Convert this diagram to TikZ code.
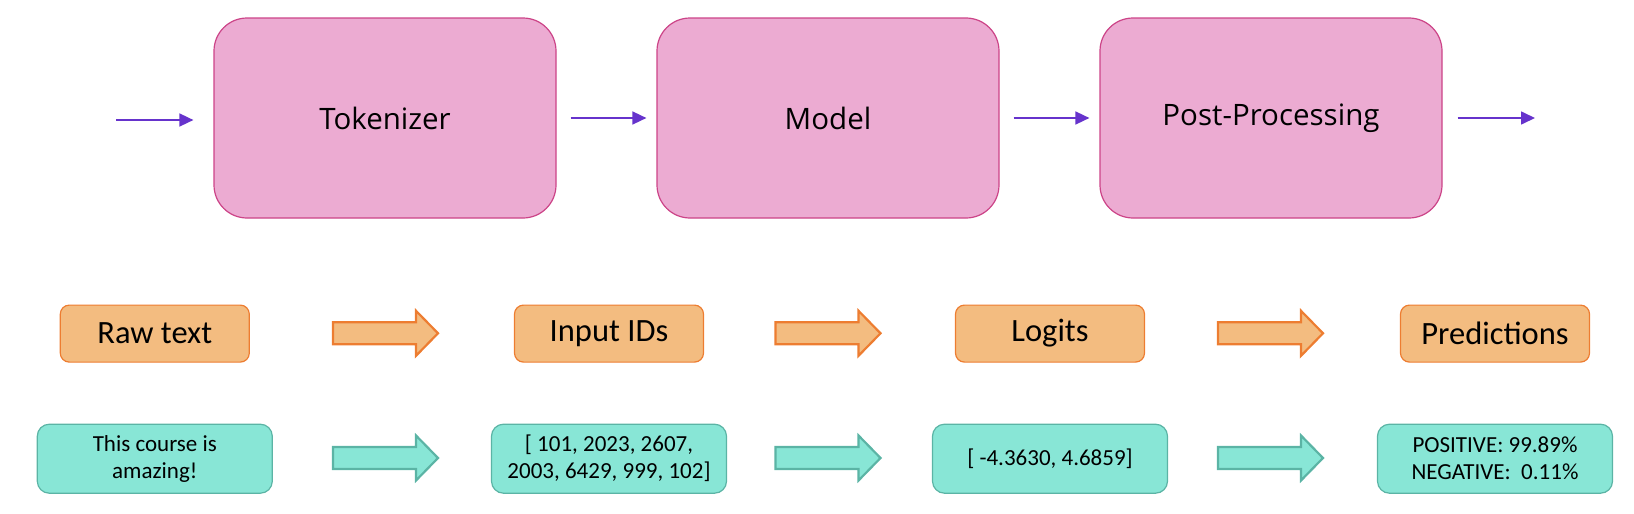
\documentclass[tikz,border=0pt]{standalone}
\usepackage{fontspec}
\setmainfont{Carlito}
\newfontfamily\topfont{Open Sans}
\usetikzlibrary{arrows.meta,calc}
\definecolor{pinkfill}{HTML}{ECABD2}
\definecolor{pinkdraw}{HTML}{CC4488}
\definecolor{purplearr}{HTML}{6633CC}
\definecolor{orfill}{HTML}{F3BC80}
\definecolor{ordraw}{HTML}{ED7D31}
\definecolor{tealfill}{HTML}{88E6D6}
\definecolor{tealdraw}{HTML}{5BB4A5}
\tikzset{
  stagebox/.style={rectangle, rounded corners=33pt, fill=pinkfill, draw=pinkdraw, line width=1.2pt,
    minimum width=342pt, minimum height=200pt, inner sep=0pt, font=\topfont\fontsize{29.5}{34}\selectfont},
  labelbox/.style={rectangle, rounded corners=9pt, fill=orfill, draw=ordraw, line width=1.2pt,
    minimum width=189pt, minimum height=57pt, inner sep=0pt, font=\fontsize{32.5}{36}\selectfont},
  valuebox/.style={rectangle, rounded corners=12pt, fill=tealfill, draw=tealdraw, line width=1.2pt,
    minimum width=235pt, minimum height=69pt, inner sep=0pt, align=center, font=\fontsize{23}{27}\selectfont},
  flow/.style={draw=purplearr, line width=1.6pt, -{Triangle[length=14pt,width=13pt]}},
  orblock/.style={fill=orfill, draw=ordraw, line width=2.2pt, line join=miter},
  tealblock/.style={fill=tealfill, draw=tealdraw, line width=2.2pt, line join=miter},
}
\newcommand\blockarrow[3]{% style, center x, center y
  \path[#1] ($(#2,#3)+(-52,-11)$) -- ++(83,0) -- ++(0,-11.5) -- ++(22,22.5) -- ++(-22,22.5) -- ++(0,-11.5) -- ++(-83,0) -- cycle;}
\begin{document}
\begin{tikzpicture}[x=1pt,y=-1pt]
\useasboundingbox (0,0) rectangle (1634,514);
% top row
\node[stagebox] (tok) at (385,118) {Tokenizer};
\node[stagebox] (model) at (828,118) {Model};
\node[stagebox] (post) at (1271,118) {Post-Processing};
\coordinate (in) at (116,120);
\coordinate (out) at (1535,118);
\draw[flow, shorten >=20pt] (in) -- (tok.west |- in);
\draw[flow, shorten <=14pt, shorten >=10pt] (tok) -- (model);
\draw[flow, shorten <=14pt, shorten >=10pt] (model) -- (post);
\draw[flow, shorten <=15pt] (post) -- (out);
% labels row
\node[labelbox] (raw) at (154.8,333.6) {Raw text};
\node[labelbox] (ids) at (609,333.6) {Input IDs};
\node[labelbox] (logits) at (1050,333.6) {Logits};
\node[labelbox] (pred) at (1495,333.6) {Predictions};
% values row
\node[valuebox] (txt) at (154.8,458.7) {This course is\\amazing!};
\node[valuebox] (idv) at (609,458.7) {[ 101, 2023, 2607,\\2003, 6429, 999, 102]};
\node[valuebox] (lgv) at (1050,458.7) {[ -4.3630, 4.6859]};
\node[valuebox] (prv) at (1495,458.7) {POSITIVE: 99.89\%\\NEGATIVE:\ \ 0.11\%};
% block arrows
\blockarrow{orblock}{385}{333.3}
\blockarrow{orblock}{827.5}{333.3}
\blockarrow{orblock}{1270}{333.3}
\blockarrow{tealblock}{385}{458}
\blockarrow{tealblock}{827.5}{458}
\blockarrow{tealblock}{1270}{458}
\end{tikzpicture}
\end{document}
